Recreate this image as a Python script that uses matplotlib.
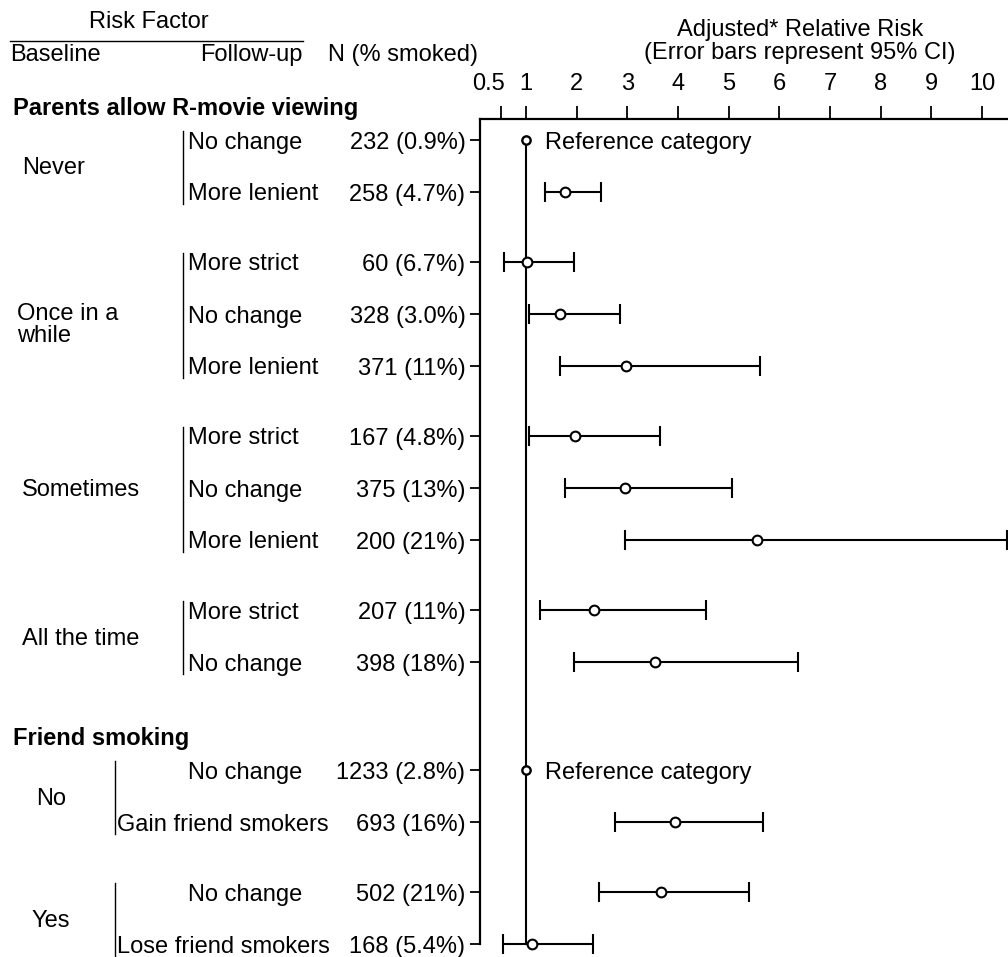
import numpy as np
import matplotlib.pyplot as plt
from matplotlib.lines import Line2D
from matplotlib.transforms import blended_transform_factory, ScaledTranslation

plt.rcParams['font.family'] = ['Liberation Sans', 'DejaVu Sans']
plt.rcParams['font.size'] = 17

# ---- data ----
sections = ["Parents allow R-movie viewing", "Friend smoking"]
baseline = ["Never", "Once in a\nwhile", "Sometimes", "All the time", "No", "Yes"]
baseline_section = [0, 0, 0, 0, 1, 1]
followup = ["No change", "More lenient",
            "More strict", "No change", "More lenient",
            "More strict", "No change", "More lenient",
            "More strict", "No change",
            "No change", "Gain friend smokers",
            "No change", "Lose friend smokers"]
row_group = [0, 0, 1, 1, 1, 2, 2, 2, 3, 3, 4, 4, 5, 5]
n_smoked = ["232 (0.9%)", "258 (4.7%)", "60 (6.7%)", "328 (3.0%)", "371 (11%)",
            "167 (4.8%)", "375 (13%)", "200 (21%)", "207 (11%)", "398 (18%)",
            "1233 (2.8%)", "693 (16%)", "502 (21%)", "168 (5.4%)"]
rr = [1.0, 1.77, 1.01, 1.68, 2.97, 1.97, 2.96, 5.56, 2.34, 3.55, 1.0, 3.95, 3.66, 1.11]
ci_lo = [np.nan, 1.37, 0.57, 1.05, 1.67, 1.06, 1.77, 2.95, 1.27, 1.95, np.nan, 2.76, 2.45, 0.54]
ci_hi = [np.nan, 2.48, 1.94, 2.85, 5.61, 3.65, 5.07, 10.5, 4.55, 6.36, np.nan, 5.67, 5.40, 2.32]
reference_rows = [0, 10]
xticks = [0.5, 1, 2, 3, 4, 5, 6, 7, 8, 9, 10]

# ---- layout (pixels of a 1008 x 957 canvas) ----
W, H = 1008, 957
ROW = 52.0                    # px between rows
GROUP_GAP = 18 / ROW
SECTION_GAP = 38 / ROW

y = []
pos = 0.0
for i, g in enumerate(row_group):
    if i > 0:
        pos += 1
        if g != row_group[i - 1]:
            pos += GROUP_GAP
            if baseline_section[g] != baseline_section[row_group[i - 1]]:
                pos += SECTION_GAP
    y.append(pos)
y = np.array(y)

fig = plt.figure(figsize=(W / 100, H / 100), dpi=100)
ax_left, ax_top = 480, 119
ax = fig.add_axes([ax_left / W, 0, 1 - ax_left / W, 1 - ax_top / H])
first_row_px = 140
ax.set_ylim((H - first_row_px) / ROW, -(first_row_px - ax_top) / ROW)
ax.set_xlim(1 - 46 / 50.67, 1 + 482 / 50.67)

for s in ['right', 'bottom']:
    ax.spines[s].set_visible(False)
ax.spines['left'].set_bounds(ax.get_ylim()[1], y[-1])
ax.spines['left'].set_linewidth(1.6)
ax.spines['top'].set_linewidth(1.6)

# top axis
ax.xaxis.tick_top()
ax.set_xticks(xticks)
ax.set_xticklabels(["0.5"] + [str(v) for v in xticks[1:]])
ax.tick_params(axis='x', direction='out', length=9.5, width=1.3, pad=8)
lab0 = ax.get_xticklabels()[0]
lab0.set_transform(lab0.get_transform() + ScaledTranslation(-0.12, 0, fig.dpi_scale_trans))

# left axis: N (% smoked)
ax.set_yticks(y)
ax.set_yticklabels(n_smoked)
ax.tick_params(axis='y', direction='out', length=7.5, width=1.3, pad=3)

# reference line at RR = 1
ax.plot([1, 1], [y[0], y[-1]], color='black', lw=1.5, zorder=2)

est = [i for i in range(len(rr)) if i not in reference_rows]
rr_e = np.array([rr[i] for i in est])
lo_e = np.array([ci_lo[i] for i in est])
hi_e = np.array([ci_hi[i] for i in est])
ax.errorbar(rr_e, y[est], xerr=[rr_e - lo_e, hi_e - rr_e], fmt='o', color='black',
            mfc='white', mec='black', ms=7, mew=1.5, elinewidth=1.5,
            capsize=7, capthick=1.5, clip_on=False, zorder=3)
for i in reference_rows:
    ax.plot(rr[i], y[i], 'o', mfc='white', mec='black', ms=6, mew=1.7, zorder=4)
    ax.annotate("Reference category", (rr[i], y[i]), xytext=(14, 0),
                textcoords='offset points', va='center_baseline', ha='left')

# left-hand text columns
tr = blended_transform_factory(fig.transFigure, ax.transData)
for i, lab in enumerate(followup):
    sec = baseline_section[row_group[i]]
    fx = 188 if (sec == 0 or len(lab) < 12) else 117
    ax.text(fx / W, y[i], lab, transform=tr, ha='left', va='center_baseline',
            clip_on=False)

for g, lab in enumerate(baseline):
    rows = [i for i in range(len(row_group)) if row_group[i] == g]
    sec = baseline_section[g]
    ym = y[rows].mean()
    if '\n' in lab:
        ax.text(17 / W, y[rows[1]] - 11 / ROW, lab, transform=tr, ha='left', va='top',
                linespacing=1.0, clip_on=False)
    elif sec == 0:
        ax.text(22 / W, ym, lab, transform=tr, ha='left', va='center_baseline',
                clip_on=False)
    else:
        ax.text(51 / W, ym, lab, transform=tr, ha='center', va='center_baseline',
                clip_on=False)
    bx = 183 if sec == 0 else 115
    ax.plot([bx / W, bx / W], [y[rows[0]] - 9 / ROW, y[rows[-1]] + 12 / ROW],
            transform=tr, color='black', lw=1.0, clip_on=False)

for s, lab in enumerate(sections):
    first = [i for i in range(len(row_group)) if baseline_section[row_group[i]] == s][0]
    ax.text(13 / W, y[first] - 0.65, lab, transform=tr, ha='left', va='center_baseline',
            fontweight='bold', clip_on=False)

# column headers
fig.text(149 / W, 1 - 22 / H, "Risk Factor", ha='center', va='center')
fig.add_artist(Line2D([10 / W, 303 / W], [1 - 41 / H] * 2, color='black', lw=1.0))
fig.text(10 / W, 1 - 55 / H, "Baseline", ha='left', va='center')
fig.text(303 / W, 1 - 55 / H, "Follow-up", ha='right', va='center')
fig.text(328 / W, 1 - 55 / H, "N (% smoked)", ha='left', va='center')
fig.text(800 / W, 1 - 30 / H, "Adjusted* Relative Risk", ha='center', va='center')
fig.text(800 / W, 1 - 53 / H, "(Error bars represent 95% CI)", ha='center', va='center')

fig.savefig("out.png", dpi=100)
